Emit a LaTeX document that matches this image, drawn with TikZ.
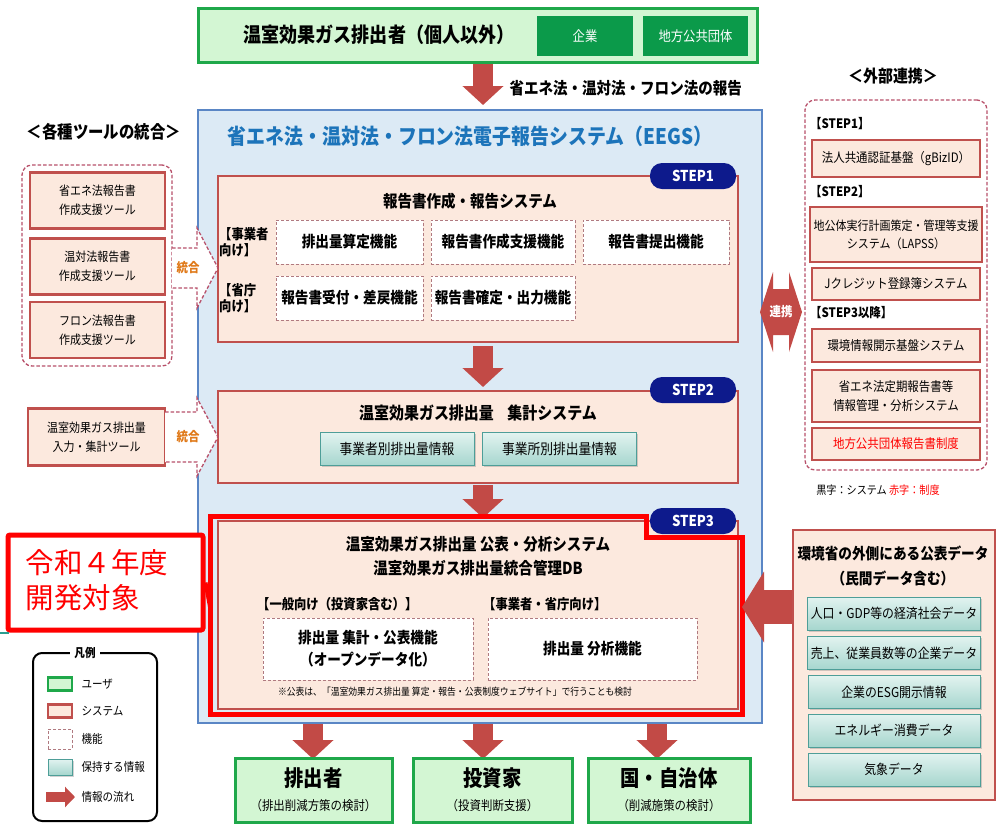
\documentclass[tikz,border=0pt]{standalone}
\usepackage{fontspec}
\setmainfont{Noto Sans CJK JP}[FakeStretch=0.88]
\newfontfamily\jpwide{Noto Sans CJK JP}
\usetikzlibrary{arrows.meta,shadows}
\definecolor{ugreen}{HTML}{1FA84A}
\definecolor{lgreen}{HTML}{D3F6D3}
\definecolor{dgreen}{HTML}{0B9A4A}
\definecolor{sysred}{HTML}{C0504D}
\definecolor{peach}{HTML}{FCE9DE}
\definecolor{fnred}{HTML}{B07A80}
\definecolor{grpred}{HTML}{B8506A}
\definecolor{bluebd}{HTML}{5A86C5}
\definecolor{bluebg}{HTML}{DCEAF5}
\definecolor{titleblue}{HTML}{1C74BA}
\definecolor{navy}{HTML}{0D1A8C}
\definecolor{arrred}{HTML}{C24A46}
\definecolor{infotop}{HTML}{E2F3F0}
\definecolor{infobot}{HTML}{A6D6CE}
\definecolor{infobd}{HTML}{4E9E98}
\definecolor{hired}{HTML}{FF0000}
\definecolor{orng}{HTML}{E07A1A}
\definecolor{tealln}{HTML}{2A9D8F}
\newcommand\fz[2]{\fontsize{#1}{#2}\selectfont}
\tikzset{
 sysbox/.style={draw=sysred, line width=2.5, fill=peach, align=center},
 fnbox/.style={draw=fnred, line width=1, dash pattern=on 3pt off 2pt, fill=white, align=center},
 infobox/.style={draw=infobd, line width=1, top color=infotop, bottom color=infobot, align=center,
   drop shadow={shadow xshift=1.5pt, shadow yshift=-1.5pt, opacity=0.35}},
 usrbox/.style={draw=ugreen, line width=3, fill=lgreen},
 badge/.style={fill=navy, rounded corners=12, text=white, font=\bfseries\fz{15}{18}, minimum width=86, minimum height=26},
 flow/.style={draw=arrred, line width=20, -{Triangle[width=40pt,length=19pt]}},
 grp/.style={draw=grpred, line width=1.3, dash pattern=on 3.5pt off 2pt, rounded corners=10},
 chev/.style={draw=grpred, line width=1.3, dash pattern=on 3.5pt off 2pt, fill=white},
 lbl/.style={anchor=west, align=left, font=\bfseries\fz{13}{15}, inner sep=0},
 lblb/.style={anchor=west, align=left, font=\bfseries\fz{14}{16}, inner sep=0},
}
\begin{document}
\begin{tikzpicture}[x=1pt,y=-1pt]
\useasboundingbox (0,0) rectangle (997,823);
\fill[white] (0,0) rectangle (997,823);

% ---------- top user box
\node[usrbox, minimum width=559, minimum height=54] (top) at (477.5,35) {};
\node[font=\bfseries\fz{20.5}{24}] (toptxt) at (379,35) {温室効果ガス排出者（個人以外）};
\node[fill=dgreen, text=white, minimum width=96, minimum height=40, font=\fz{14}{17}] (kigyo) at (585,36) {企業};
\node[fill=dgreen, text=white, minimum width=105, minimum height=40, font=\fz{14}{17}] (chiho) at (695.5,36) {地方公共団体};
\coordinate (a1s) at (483,64); \coordinate (a1e) at (483,105);
\draw[flow] (a1s) -- (a1e);
\node[anchor=west, font=\bfseries\fz{16.5}{20}] (rep) at (506,88) {省エネ法・温対法・フロン法の報告};

% ---------- EEGS frame
\node[draw=bluebd, line width=2.5, fill=bluebg, minimum width=564, minimum height=613] (eegs) at (480,416.5) {};
\node[text=titleblue, font=\bfseries\fz{21.5}{26}] (eegst) at (470,136) {省エネ法・温対法・フロン法電子報告システム（EEGS）};

% ---------- STEP1
\node[sysbox, minimum width=520, minimum height=166] (s1) at (478,259) {};
\node[badge] (b1) at (693,176) {STEP1};
\node[font=\bfseries\fz{16.5}{20}] (s1t) at (470,201) {報告書作成・報告システム};
\node[lblb] (s1l1) at (219,242) {【事業者\\向け】};
\node[lblb] (s1l2) at (219,298) {【省庁\\向け】};
\node[fnbox, minimum width=147, minimum height=44, font=\bfseries\fz{15.5}{18}] (f11) at (349.5,242) {排出量算定機能};
\node[fnbox, minimum width=144, minimum height=44, font=\bfseries\fz{15.5}{18}] (f12) at (503,242) {報告書作成支援機能};
\node[fnbox, minimum width=146, minimum height=44, font=\bfseries\fz{15.5}{18}] (f13) at (656,242) {報告書提出機能};
\node[fnbox, minimum width=147, minimum height=44, font=\bfseries\fz{15.5}{18}] (f21) at (349.5,298) {報告書受付・差戻機能};
\node[fnbox, minimum width=144, minimum height=44, font=\bfseries\fz{15.5}{18}] (f22) at (503,298) {報告書確定・出力機能};

% ---------- STEP2
\coordinate (a2s) at (483,346); \coordinate (a2e) at (483,387);
\draw[flow] (a2s) -- (a2e);
\node[sysbox, minimum width=520, minimum height=92] (s2) at (478,437) {};
\node[badge] (b2) at (693,390) {STEP2};
\node[font=\bfseries\fz{17}{20}] (s2t) at (478,413) {温室効果ガス排出量\hspace{0.8em}集計システム};
\node[infobox, minimum width=154, minimum height=33, font=\fz{14.5}{17}] (i1) at (397,449) {事業者別排出量情報};
\node[infobox, minimum width=154, minimum height=33, font=\fz{14.5}{17}] (i2) at (559.5,449) {事業所別排出量情報};

% ---------- STEP3
\coordinate (a3s) at (483,485); \coordinate (a3e) at (483,518);
\draw[flow] (a3s) -- (a3e);
\node[sysbox, minimum width=520, minimum height=188] (s3) at (478,615) {};
\draw[hired, line width=5] (210,516) -- (646,516) -- (646,537) -- (742,537) -- (742,714) -- (210,714) -- cycle;
\node[badge] (b3) at (693,521) {STEP3};
\node[font=\bfseries\fz{16.5}{20}] (s3t1) at (478,544) {温室効果ガス排出量 公表・分析システム};
\node[font=\bfseries\fz{16.5}{20}] (s3t2) at (478,568) {温室効果ガス排出量統合管理DB};
\node[lblb] (s3l1) at (257,604) {【一般向け（投資家含む）】};
\node[lblb] (s3l2) at (483,604) {【事業者・省庁向け】};
\node[fnbox, minimum width=210, minimum height=62, font=\bfseries\fz{15.5}{22}] (f31) at (368,649) {排出量 集計・公表機能\\（オープンデータ化）};
\node[fnbox, minimum width=209, minimum height=62, font=\bfseries\fz{15.5}{22}] (f32) at (592.5,649) {排出量 分析機能};
\node[font=\fz{10}{12}] (note) at (455,692) {※公表は、「温室効果ガス排出量 算定・報告・公表制度ウェブサイト」で行うことも検討};

% ---------- bottom users
\coordinate (d1s) at (313,724); \coordinate (d1e) at (313,759);
\coordinate (d2s) at (483,724); \coordinate (d2e) at (483,759);
\coordinate (d3s) at (657,724); \coordinate (d3e) at (657,759);
\draw[flow] (d1s) -- (d1e);
\draw[flow] (d2s) -- (d2e);
\draw[flow] (d3s) -- (d3e);
\node[usrbox, minimum width=157, minimum height=64] (g1) at (313.5,790) {};
\node[usrbox, minimum width=159, minimum height=64] (g2) at (492.5,790) {};
\node[usrbox, minimum width=162, minimum height=64] (g3) at (669,790) {};
\node[font=\bfseries\fz{22}{26}] (g1t) at (313.5,778) {排出者};
\node[font=\bfseries\fz{22}{26}] (g2t) at (492.5,778) {投資家};
\node[font=\bfseries\fz{22}{26}] (g3t) at (669,778) {国・自治体};
\node[font=\fz{13}{15}] (g1s) at (313.5,806) {（排出削減方策の検討）};
\node[font=\fz{13}{15}] (g2s) at (492.5,806) {（投資判断支援）};
\node[font=\fz{13}{15}] (g3s) at (669,806) {（削減施策の検討）};

% ---------- left tools
\node[font=\bfseries\fz{17.5}{20}] (ltitle) at (104,132) {＜各種ツールの統合＞};
\node[grp, minimum width=150, minimum height=201] (lgrp) at (97,265.5) {};
\node[sysbox, minimum width=135, minimum height=56, font=\fz{12.5}{19}] (l1) at (97.5,200.5) {省エネ法報告書\\作成支援ツール};
\node[sysbox, minimum width=135, minimum height=56, font=\fz{12.5}{19}] (l2) at (97.5,266.5) {温対法報告書\\作成支援ツール};
\node[sysbox, minimum width=135, minimum height=56, font=\fz{12.5}{19}] (l3) at (97.5,330) {フロン法報告書\\作成支援ツール};
\draw[chev] (172,248) -- (197,248) -- (197,228) -- (218,268) -- (197,308) -- (197,288) -- (172,288);
\node[text=orng, font=\bfseries\fz{13}{15}] (int1) at (188,268) {統合};
\node[sysbox, minimum width=137, minimum height=57, font=\fz{12.5}{19}] (l4) at (96.5,437) {温室効果ガス排出量\\入力・集計ツール};
\draw[chev] (165,412) -- (197,412) -- (197,398) -- (218,437) -- (197,476) -- (197,462) -- (165,462);
\node[text=orng, font=\bfseries\fz{13}{15}] (int2) at (188,437) {統合};

% ---------- right external
\node[font=\bfseries\fz{17}{20}] (rtitle) at (893,76) {＜外部連携＞};
\node[grp, minimum width=182, minimum height=370] (rgrp) at (896,285) {};
\node[lbl] (rs1) at (810,124) {【STEP1】};
\node[sysbox, minimum width=168, minimum height=37, font=\fz{13}{16}] (r1) at (896,158.5) {法人共通認証基盤（gBizID）};
\node[lbl] (rs2) at (810,192) {【STEP2】};
\node[sysbox, minimum width=168, minimum height=55, font=\fz{12.5}{18}] (r2) at (896,234.5) {地公体実行計画策定・管理等支援\\システム（LAPSS）};
\node[sysbox, minimum width=168, minimum height=32, font=\fz{13}{16}] (r3) at (896,284) {Jクレジット登録簿システム};
\node[lbl] (rs3) at (810,313) {【STEP3以降】};
\node[sysbox, minimum width=168, minimum height=33, font=\fz{13}{16}] (r4) at (896,345.5) {環境情報開示基盤システム};
\node[sysbox, minimum width=168, minimum height=52, font=\fz{13}{19}] (r5) at (896,396) {省エネ法定期報告書等\\情報管理・分析システム};
\node[sysbox, minimum width=168, minimum height=32, font=\fz{13}{16}, text=hired] (r6) at (896,444) {地方公共団体報告書制度};
\node[font=\fz{11.5}{14}] (rnote) at (878,490) {黒字：システム \textcolor{hired}{赤字：制度}};
\fill[arrred] (760,312) -- (773,272) -- (773,289) -- (789,289) -- (789,272) -- (802,312) -- (789,352) -- (789,335) -- (773,335) -- (773,352) -- cycle;
\node[text=white, font=\bfseries\fz{13}{15}] (renkei) at (781,312) {連携};

% ---------- right public data
\node[sysbox, minimum width=202, minimum height=270] (rb) at (894,665) {};
\node[font=\bfseries\fz{15.5}{18}] (rbt1) at (893,553) {環境省の外側にある公表データ};
\node[font=\bfseries\fz{15.5}{18}] (rbt2) at (893,578) {（民間データ含む）};
\node[infobox, minimum width=172, minimum height=33, font=\fz{13.5}{16}] (d1) at (894,613.5) {人口・GDP等の経済社会データ};
\node[infobox, minimum width=172, minimum height=33, font=\fz{13.5}{16}] (d2) at (894,653) {売上、従業員数等の企業データ};
\node[infobox, minimum width=172, minimum height=33, font=\fz{13.5}{16}] (d3) at (894,692) {企業のESG開示情報};
\node[infobox, minimum width=172, minimum height=33, font=\fz{13.5}{16}] (d4) at (894,730.5) {エネルギー消費データ};
\node[infobox, minimum width=172, minimum height=33, font=\fz{13.5}{16}] (d5) at (894,769.5) {気象データ};
\coordinate (ras) at (792,607); \coordinate (rae) at (742,607);
\draw[draw=arrred, line width=34, -{Triangle[width=70pt,length=22pt]}] (ras) -- (rae);

% ---------- callout
\node[draw=hired, line width=5, fill=white, rounded corners=2, minimum width=195, minimum height=95] (call) at (105.5,582.5) {};
\node[text=hired, font=\jpwide\fz{28.5}{35}, align=left, anchor=west] (callt) at (22,580) {令和４年度\\開発対象};
\coordinate (hl) at (211,612);
\draw[hired, line width=4] (call.east) -- (hl);
\draw[tealln, line width=1.5] (0,633) -- (9,633);

% ---------- legend
\node[draw=black, line width=2, rounded corners=9, minimum width=124, minimum height=168] (leg) at (95,737) {};
\node[fill=white, font=\bfseries\fz{12}{14}, inner xsep=4, inner ysep=1] (legt) at (85,653) {凡例};
\node[usrbox, line width=2.5, minimum width=24, minimum height=13, inner sep=0] (li1) at (60,684) {};
\node[sysbox, minimum width=24, minimum height=13, inner sep=0] (li2) at (60,711) {};
\node[fnbox, minimum width=24, minimum height=20, inner sep=0] (li3) at (60,739) {};
\node[infobox, minimum width=24, minimum height=16, inner sep=0] (li4) at (60,767) {};
\coordinate (las) at (46,797); \coordinate (lae) at (75,797);
\draw[draw=arrred, line width=10, -{Triangle[width=20pt,length=10pt]}] (las) -- (lae);
\node[anchor=west, font=\fz{12}{14}] (lt1) at (78,684) {ユーザ};
\node[anchor=west, font=\fz{12}{14}] (lt2) at (78,711) {システム};
\node[anchor=west, font=\fz{12}{14}] (lt3) at (78,739) {機能};
\node[anchor=west, font=\fz{12}{14}] (lt4) at (78,767) {保持する情報};
\node[anchor=west, font=\fz{12}{14}] (lt5) at (78,797) {情報の流れ};
\end{tikzpicture}
\end{document}
